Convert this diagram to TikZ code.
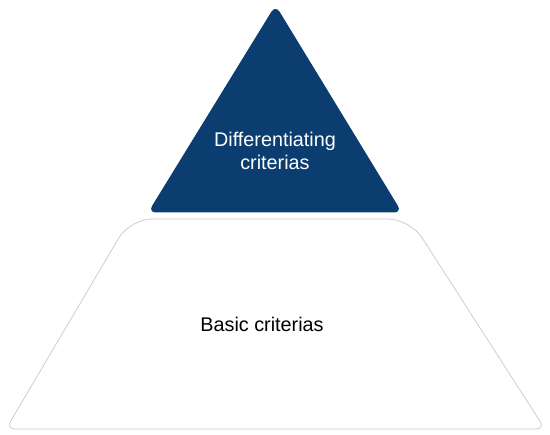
\documentclass[tikz,border=0pt]{standalone}
\usepackage{fontspec}
\setmainfont{Liberation Sans}
\definecolor{topblue}{RGB}{11,61,112}
\definecolor{edgegray}{RGB}{205,205,210}
\begin{document}
\begin{tikzpicture}[x=1pt,y=-1pt,
  lbl/.style={font=\fontsize{19.8}{23}\selectfont, align=center, inner sep=0pt}]
\useasboundingbox (0,0) rectangle (550,435);
% top triangle
\fill[topblue, rounded corners=8pt] (275.5,5) -- (402,212.5) -- (148,212.5) -- cycle;
% bottom trapezoid
\draw[edgegray, line width=0.8pt] (275,429) [rounded corners=9pt] -- (545,429) [rounded corners=22pt] -- (410,219) -- (130,219) [rounded corners=9pt] -- (6,429) -- cycle;
\node[lbl, text=white, anchor=base] (top) at (275,170) {Differentiating\\criterias};
\node[lbl, text=black, anchor=base] (base) at (262,332) {Basic criterias};
\end{tikzpicture}
\end{document}
